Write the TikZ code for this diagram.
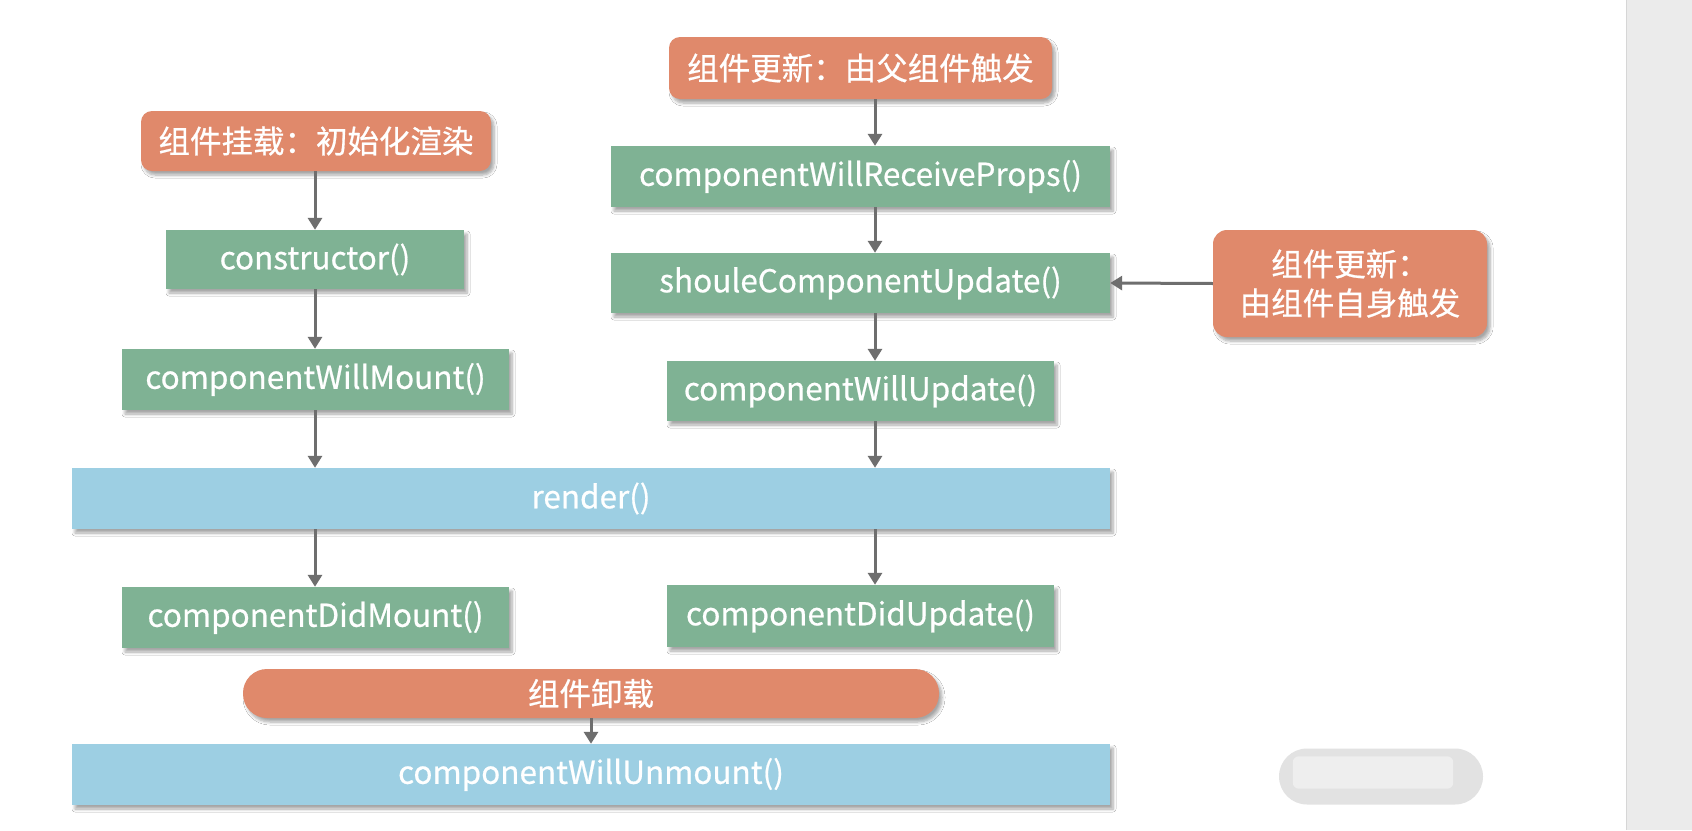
\documentclass[tikz,border=0pt]{standalone}
\usepackage{fontspec}
\setmainfont{Noto Sans CJK SC}[FakeBold=0.6]
\usetikzlibrary{arrows.meta,shadows,shadows.blur}
\definecolor{orangeC}{HTML}{E0896B}
\definecolor{greenC}{HTML}{7FB294}
\definecolor{blueC}{HTML}{9DCFE3}
\definecolor{arrowC}{HTML}{6E6E6E}
\definecolor{stripC}{HTML}{EBEBEB}
\definecolor{stripLine}{HTML}{D6D6D6}
\definecolor{wmC}{HTML}{E2E2E2}
\definecolor{wmIn}{HTML}{EEEEEE}
\begin{document}
\begin{tikzpicture}[x=1pt,y=-1pt,
  base/.style={rectangle, inner sep=0pt, text=white,
    font=\fontsize{31.5}{39}\selectfont,
    blur shadow={shadow xshift=3pt, shadow yshift=-4pt, shadow opacity=35, shadow blur steps=6, shadow blur radius=3pt}},
  greenbox/.style={base, fill=greenC},
  bluebox/.style={base, fill=blueC},
  orangebox/.style={base, fill=orangeC, rounded corners=11pt},
  arr/.style={draw=arrowC, line width=3pt, -{Triangle[width=14pt,length=12pt]}, shorten <=0pt}
]
\useasboundingbox (0,0) rectangle (1692,830);
\fill[white] (0,0) rectangle (1692,830);
\fill[stripC] (1626,0) rectangle (1692,830);
\draw[stripLine, line width=1pt] (1626,0) -- (1626,830);

% left column
\node[orangebox, minimum width=350pt, minimum height=60pt] (mount) at (316,141) {组件挂载：初始化渲染};
\node[greenbox, minimum width=298pt, minimum height=59pt] (ctor) at (315,259.5) {constructor()};
\node[greenbox, minimum width=387pt, minimum height=61pt] (cwm) at (315.5,379.5) {componentWillMount()};
\node[bluebox, minimum width=1038pt, minimum height=61pt] (render) at (591,498.5) {render()};
\node[greenbox, minimum width=387pt, minimum height=61pt] (cdm) at (315.5,617.5) {componentDidMount()};
\node[orangebox, rounded corners=24pt, minimum width=696pt, minimum height=49pt] (unmount) at (591,693.5) {组件卸载};
\node[bluebox, minimum width=1038pt, minimum height=61pt] (cwun) at (591,774.5) {componentWillUnmount()};

% right column
\node[orangebox, minimum width=383pt, minimum height=62pt] (parent) at (860.5,68) {组件更新：由父组件触发};
\node[greenbox, minimum width=499pt, minimum height=61pt] (cwrp) at (860.5,176.5) {componentWillReceiveProps()};
\node[greenbox, minimum width=499pt, minimum height=60pt] (scu) at (860.5,283) {shouleComponentUpdate()};
\node[greenbox, minimum width=387pt, minimum height=60pt] (cwup) at (860.5,391) {componentWillUpdate()};
\node[greenbox, minimum width=387pt, minimum height=62pt] (cdu) at (860.5,616) {componentDidUpdate()};
\node[orangebox, rounded corners=14pt, minimum width=274pt, minimum height=107pt, align=center] (self) at (1350,283.5) {组件更新：\\由组件自身触发};

% watermark pill
\node[rectangle, rounded corners=28pt, fill=wmC, minimum width=204pt, minimum height=56pt, inner sep=0pt] (wm) at (1381,776.5) {};
\fill[wmIn, rounded corners=6pt] ([xshift=14pt,yshift=-8pt]wm.north west) rectangle ([xshift=-30pt,yshift=16pt]wm.south east);

\coordinate (lc) at (315,0);
\coordinate (rc) at (875,0);

\draw[arr] (mount.south -| lc) -- (ctor.north -| lc);
\draw[arr] (ctor.south -| lc) -- (cwm.north -| lc);
\draw[arr] (cwm.south -| lc) -- (render.north -| lc);
\draw[arr] (render.south -| lc) -- (cdm.north -| lc);
\draw[arr] (unmount.south) -- (cwun.north);

\draw[arr] (parent.south -| rc) -- (cwrp.north -| rc);
\draw[arr] (cwrp.south -| rc) -- (scu.north -| rc);
\draw[arr] (scu.south -| rc) -- (cwup.north -| rc);
\draw[arr] (cwup.south -| rc) -- (render.north -| rc);
\draw[arr] (render.south -| rc) -- (cdu.north -| rc);
\draw[arr] (self.west) -- (scu.east);
\end{tikzpicture}
\end{document}
